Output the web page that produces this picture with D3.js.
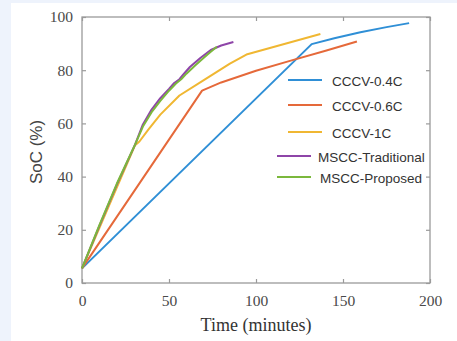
<!DOCTYPE html>
<html>
<head>
<meta charset="utf-8">
<script src="https://cdn.jsdelivr.net/npm/d3@7"></script>
<style>
  html, body { margin: 0; padding: 0; background: #eef3fc; }
  svg { display: block; }
</style>
</head>
<body>
<div id="chart"></div>
<script>
// series names, in legend order
var seriesNames = ["CCCV-0.4C", "CCCV-0.6C", "CCCV-1C", "MSCC-Traditional", "MSCC-Proposed"];

// [time (min), SoC (%)]
var cccv04 = [[0, 5.5], [132, 89.8], [145, 92], [160, 94.3], [175, 96.2], [188, 97.7]];
var cccv06 = [[0, 5.5], [69, 72.3], [80, 75.4], [100, 79.8], [120, 83.6], [140, 87.3], [158, 90.8]];
var cccv1 = [[0, 5.5], [30.5, 51.8], [33, 53.2], [38, 57.6], [45, 63.3], [56, 70.5], [70, 76.3],
  [85, 82.5], [95, 86], [137, 93.6]];
var msccTrad = [[0, 5.5], [10, 21.5], [20, 37], [30.5, 52], [35, 59.6], [40, 65.2], [45, 69.5], [50, 73],
  [53, 75.2], [56, 76.6], [58, 78.2], [62, 81.2], [68, 84.6], [74, 87.6], [80, 89.3], [87, 90.6]];
var msccProp = [[0, 5.5], [10, 21.8], [20, 37.3], [30.5, 52], [35, 58.8], [40, 64.2], [45, 68.5], [50, 72.3],
  [54, 75], [57, 76.6], [60, 78.7], [65, 81.8], [70, 84.7], [74, 86.9], [77.5, 88.8]];

var xTicks = [0, 50, 100, 150, 200];
var yTicks = [0, 20, 40, 60, 80, 100];

var allSeries = [cccv04, cccv06, cccv1, msccTrad, msccProp];
var colors = ["#2f8fd6", "#e5693a", "#f0b732", "#8e45a8", "#7bb83c"];

// legend was composed by hand in the original, so rows sit a bit unevenly
var legendRows = [
  {y: 80, x1: 288, x2: 322, tx: 332},
  {y: 105, x1: 288, x2: 322, tx: 332},
  {y: 132, x1: 288, x2: 322, tx: 332},
  {y: 156, x1: 277, x2: 311, tx: 318},
  {y: 177, x1: 277, x2: 311, tx: 320}
];

var W = 457, H = 341;
var plot = {left: 82, right: 430, top: 17, bottom: 283};

var svg = d3.select("#chart").append("svg")
  .attr("width", W)
  .attr("height", H);

// white card over the pale blue page
svg.append("rect")
  .attr("x", 11).attr("y", 3)
  .attr("width", W - 11).attr("height", H - 3)
  .attr("fill", "#ffffff");

var x = d3.scaleLinear().domain([0, 200]).range([plot.left, plot.right]);
var y = d3.scaleLinear().domain([0, 100]).range([plot.bottom, plot.top]);

var axisColor = "#9a9a9a";
var serif = "'Liberation Serif', 'Times New Roman', serif";
var sans = "'Liberation Sans', Arial, sans-serif";

function styleAxis(g, showLabels) {
  g.select(".domain").remove();
  g.selectAll(".tick line").attr("stroke", axisColor).attr("stroke-width", 1.2);
  g.selectAll(".tick text")
    .attr("fill", "#4a4a4a")
    .style("font-family", serif)
    .style("font-size", "15.5px");
  if (!showLabels) g.selectAll(".tick text").remove();
}

svg.append("g")
  .attr("transform", "translate(0," + plot.bottom + ")")
  .call(d3.axisBottom(x).tickValues(xTicks).tickSize(-4).tickPadding(12))
  .call(styleAxis, true);

svg.append("g")
  .attr("transform", "translate(0," + plot.top + ")")
  .call(d3.axisTop(x).tickValues(xTicks).tickSize(-4))
  .call(styleAxis, false);

svg.append("g")
  .attr("transform", "translate(" + plot.left + ",0)")
  .call(d3.axisLeft(y).tickValues(yTicks).tickSize(-4).tickPadding(9))
  .call(styleAxis, true);

svg.append("g")
  .attr("transform", "translate(" + plot.right + ",0)")
  .call(d3.axisRight(y).tickValues(yTicks).tickSize(-4))
  .call(styleAxis, false);

// box
svg.append("rect")
  .attr("x", plot.left).attr("y", plot.top)
  .attr("width", plot.right - plot.left)
  .attr("height", plot.bottom - plot.top)
  .attr("fill", "none")
  .attr("stroke", axisColor)
  .attr("stroke-width", 1.3);

var line = d3.line()
  .x(function(d) { return x(d[0]); })
  .y(function(d) { return y(d[1]); });

svg.append("g").selectAll("path")
  .data(allSeries)
  .enter().append("path")
  .attr("d", line)
  .attr("fill", "none")
  .attr("stroke", function(d, i) { return colors[i]; })
  .attr("stroke-width", 2)
  .attr("stroke-linejoin", "round");

// legend
var legend = svg.append("g");
legendRows.forEach(function(r, i) {
  legend.append("line")
    .attr("x1", r.x1).attr("x2", r.x2)
    .attr("y1", r.y).attr("y2", r.y)
    .attr("stroke", colors[i])
    .attr("stroke-width", 2);
  legend.append("text")
    .attr("x", r.tx)
    .attr("y", r.y + 1)
    .attr("dy", "0.35em")
    .attr("fill", "#333")
    .style("font-family", sans)
    .style("font-size", "13.5px")
    .text(seriesNames[i]);
});

// axis titles
svg.append("text")
  .attr("x", (plot.left + plot.right) / 2)
  .attr("y", 331)
  .attr("text-anchor", "middle")
  .attr("fill", "#333")
  .style("font-family", serif)
  .style("font-size", "18px")
  .text("Time (minutes)");

svg.append("text")
  .attr("transform", "translate(42," + 152 + ") rotate(-90)")
  .attr("text-anchor", "middle")
  .attr("fill", "#444")
  .style("font-family", sans)
  .style("font-size", "17px")
  .text("SoC (%)");
</script>
</body>
</html>
